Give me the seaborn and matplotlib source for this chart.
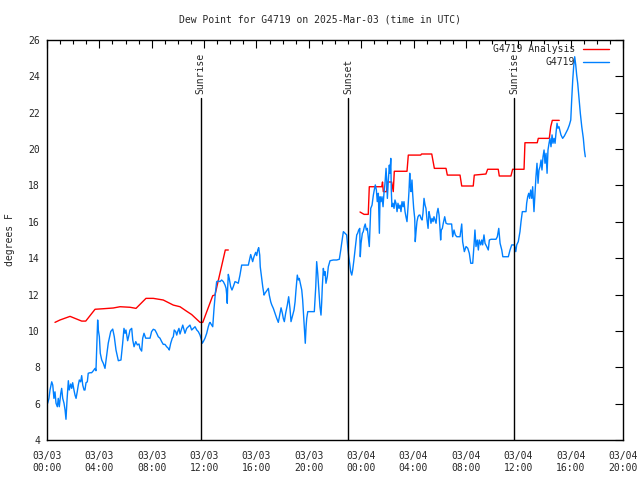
import numpy as np
import pandas as pd
import seaborn as sns
import matplotlib
matplotlib.use("Agg")
import matplotlib.pyplot as plt
import matplotlib.dates as mdates

# hours after 2025-03-03 00:00 UTC, dew point in deg F
analysis_hours_1 = [0.61, 0.99, 1.76, 2.65, 2.96, 3.67, 4.30, 5.06, 5.58, 6.34,
                    6.80, 7.56, 8.12, 8.88, 9.65, 10.16, 10.67, 11.05, 11.69, 11.90,
                    12.66, 12.83, 13.62, 13.85]
analysis_dewpt_1 = [10.47, 10.6, 10.8, 10.54, 10.54, 11.19, 11.22, 11.26, 11.33, 11.3,
                    11.24, 11.79, 11.79, 11.7, 11.42, 11.33, 11.08, 10.9, 10.47, 10.47,
                    11.94, 11.97, 14.45, 14.45]

analysis_hours_2 = [23.91, 24.22, 24.54, 24.62, 25.57, 25.63, 25.69, 25.93, 26.01, 26.33,
                    26.45, 26.53, 27.50, 27.60, 28.55, 28.61, 29.39, 29.59, 30.48, 30.58,
                    31.55, 31.68, 32.56, 32.64, 33.53, 33.66, 34.47, 34.55, 35.44, 35.57,
                    36.44, 36.51, 37.45, 37.53, 38.37, 38.48, 38.60, 39.13]
analysis_dewpt_2 = [16.54, 16.41, 16.41, 17.93, 17.93, 18.19, 17.66, 17.66, 18.19, 18.19,
                    17.66, 18.78, 18.78, 19.67, 19.67, 19.73, 19.73, 18.94, 18.94, 18.57,
                    18.57, 17.97, 17.97, 18.57, 18.63, 18.89, 18.89, 18.52, 18.52, 18.89,
                    18.89, 20.35, 20.35, 20.59, 20.59, 21.23, 21.58, 21.58]

obs_hours = [
    0.05, 0.15, 0.23, 0.36, 0.44, 0.53, 0.61, 0.69, 0.79, 0.86,
    0.94, 1.05, 1.12, 1.20, 1.30, 1.38, 1.45, 1.53, 1.63, 1.70,
    1.81, 1.89, 1.96, 2.06, 2.14, 2.22, 2.31, 2.39, 2.47, 2.57,
    2.65, 2.73, 2.83, 2.90, 2.98, 3.08, 3.15, 3.28, 3.41, 3.54,
    3.67, 3.74, 3.80, 3.87, 3.92, 4.00, 4.07, 4.18, 4.30, 4.43,
    4.68, 4.87, 5.02, 5.14, 5.27, 5.45, 5.65, 5.78, 5.88, 5.96,
    6.03, 6.16, 6.26,
    6.34, 6.47, 6.55, 6.65, 6.78, 6.90, 7.03, 7.10, 7.23, 7.31,
    7.41, 7.54, 7.66, 7.87, 7.99, 8.12, 8.25, 8.38, 8.50, 8.63,
    8.76, 8.88, 9.01, 9.14, 9.27, 9.34, 9.45, 9.57, 9.65, 9.72,
    9.83, 9.91, 9.98, 10.08, 10.16, 10.29, 10.37, 10.47, 10.54, 10.67,
    10.79, 10.92, 11.05, 11.18, 11.31, 11.44, 11.56, 11.69, 11.76, 11.86,
    11.94, 12.07, 12.20, 12.32, 12.40,
    12.45, 12.58, 12.66, 12.76, 12.86, 12.96, 13.09, 13.22, 13.34, 13.47,
    13.60, 13.68, 13.73, 13.77, 13.80, 13.85, 13.92, 14.03, 14.13, 14.23,
    14.36, 14.49, 14.61, 14.74, 14.87, 15.00, 15.18, 15.38, 15.45, 15.56,
    15.64, 15.71, 15.81, 15.94, 16.02, 16.10, 16.17, 16.25, 16.29, 16.40,
    16.48, 16.58, 16.65, 16.78, 16.91, 16.98, 17.09, 17.17, 17.29, 17.42,
    17.55, 17.67, 17.75, 17.88, 17.98, 18.05, 18.13, 18.23, 18.36, 18.46,
    18.56, 18.64, 18.77, 18.87, 18.95, 19.02, 19.12, 19.20, 19.27, 19.38,
    19.46, 19.53, 19.61, 19.69, 19.73, 19.79, 19.84, 19.92, 20.09, 20.27,
    20.42, 20.53, 20.60, 20.68, 20.78, 20.85, 20.93, 20.98, 21.03, 21.11,
    21.18, 21.24, 21.31, 21.41, 21.49, 21.62, 21.87, 22.13, 22.33, 22.44,
    22.51, 22.64, 22.77, 22.89, 22.97, 23.05, 23.12, 23.20, 23.28, 23.35,
    23.43, 23.50, 23.58, 23.66, 23.73, 23.81, 23.89, 23.93, 23.99, 24.09,
    24.16, 24.24, 24.31, 24.39, 24.47, 24.57, 24.62,
    24.67, 24.73, 24.83, 24.93, 25.00, 25.08, 25.16, 25.23, 25.31, 25.39,
    25.44, 25.51, 25.59, 25.67, 25.74, 25.82, 25.90, 25.95, 26.00, 26.07,
    26.15, 26.20, 26.26, 26.30, 26.35, 26.43, 26.51, 26.58, 26.66, 26.74,
    26.81, 26.89, 26.97, 27.04, 27.12, 27.20, 27.27, 27.35, 27.42, 27.50,
    27.58, 27.65, 27.71, 27.75, 27.81, 27.88, 27.93, 28.01, 28.09, 28.13,
    28.19, 28.26, 28.34, 28.42, 28.49, 28.57, 28.65, 28.72, 28.80, 28.88,
    28.95, 29.03, 29.11, 29.18, 29.26, 29.33, 29.41, 29.49, 29.56, 29.64,
    29.72, 29.79, 29.87, 29.95, 30.02, 30.07, 30.12, 30.20, 30.27, 30.38,
    30.48, 30.61, 30.78, 30.91, 30.99, 31.09, 31.19, 31.30, 31.49,
    31.55, 31.68, 31.75, 31.88, 32.01, 32.14, 32.26, 32.37, 32.52, 32.62,
    32.69, 32.77, 32.87, 32.95, 33.02, 33.13, 33.21, 33.28, 33.38, 33.46,
    33.59, 33.71, 33.79, 33.92, 34.10, 34.30, 34.40, 34.51, 34.61, 34.74,
    34.82, 34.99, 35.24, 35.37, 35.50, 35.70, 35.81, 35.88, 36.00, 36.13,
    36.21, 36.31, 36.44, 36.59, 36.64, 36.72, 36.80, 36.87, 36.95, 37.03,
    37.10, 37.20, 37.28, 37.35, 37.43, 37.51, 37.58, 37.66, 37.74, 37.81,
    37.89, 37.97, 38.04, 38.12, 38.20, 38.27, 38.35, 38.42, 38.50, 38.58,
    38.65, 38.73, 38.81, 38.88, 38.96, 39.03, 39.11, 39.26, 39.39, 39.52,
    39.65, 39.78, 39.90, 40.01, 40.08, 40.16, 40.23, 40.31, 40.39, 40.46,
    40.54, 40.64, 40.74, 40.85, 40.97, 41.05, 41.12,
]
obs_dewpt = [
    6.02, 6.29, 6.75, 7.2, 7.02, 6.29, 6.65, 6.02, 5.83, 6.29,
    5.83, 6.56, 6.84, 6.29, 6.02, 5.65, 5.14, 6.2, 7.26, 6.75,
    7.08, 6.84, 7.15, 6.75, 6.47, 6.29, 6.65, 7.02, 7.3, 7.2,
    7.54, 7.02, 6.75, 6.75, 7.15, 7.2, 7.67, 7.7, 7.7, 7.81,
    7.94, 7.81, 9.04, 10.6, 10.05, 9.68, 8.77, 8.4, 8.22, 7.94,
    9.33, 9.97, 10.1, 9.68, 8.95, 8.36, 8.4, 9.32, 10.14, 9.87,
    10.05, 9.46, 9.77,
    10.05, 10.14, 9.5, 9.13, 9.41, 9.23, 9.28, 9.04, 8.89, 9.6,
    9.87, 9.6, 9.6, 9.6, 9.96, 10.09, 10.05, 9.87, 9.68, 9.6,
    9.41, 9.26, 9.26, 9.13, 9.04, 8.95, 9.32, 9.6, 9.68, 10.05,
    9.96, 9.77, 9.96, 10.14, 9.83, 10.14, 10.32, 10.05, 9.87, 10.14,
    10.23, 10.32, 10.05, 10.14, 10.23, 10.05, 9.96, 9.77, 9.6, 9.32,
    9.41, 9.6, 9.87, 10.23, 10.41,
    10.47, 10.32, 10.23, 11.24, 12.07, 12.71, 12.75, 12.71, 12.8, 12.71,
    12.52, 12.34, 11.97, 11.52, 12.34, 13.11, 12.89, 12.43, 12.25, 12.43,
    12.71, 12.67, 12.62, 13.07, 13.62, 13.62, 13.62, 13.62, 13.84, 14.2,
    13.99, 13.81, 14.08, 14.32, 14.14, 14.45, 14.58, 14.17, 13.53, 12.89,
    12.43, 11.97, 12.07, 12.2, 12.34, 11.97, 11.6, 11.43, 11.24, 10.97,
    10.69, 10.47, 10.78, 11.27, 10.97, 10.69, 10.51, 10.97, 11.43, 11.88,
    11.24, 10.51, 10.87, 11.15, 11.6, 12.25, 13.07, 12.8, 12.89, 12.52,
    12.25, 11.7, 10.78, 9.77, 9.32, 10.23, 10.69, 11.06, 11.06, 11.06,
    11.06, 12.43, 13.81, 13.17, 12.07, 11.33, 10.87, 11.52, 12.43, 13.44,
    13.07, 13.26, 12.62, 12.98, 13.53, 13.86, 13.9, 13.9, 13.94, 14.45,
    14.82, 15.46, 15.37, 15.28, 14.64, 14.08, 13.72, 13.26, 13.07, 13.35,
    13.81, 14.27, 14.82, 15.28, 15.37, 15.55, 15.64, 14.08, 14.82, 15.37,
    15.46, 15.73, 15.88, 15.55, 15.64, 15.0, 14.64,
    15.55, 16.74, 16.92, 17.47, 17.75, 18.03, 17.75, 17.11, 17.57, 15.37,
    17.38, 17.11, 17.38, 16.83, 17.57, 18.12, 18.94, 18.3, 17.29, 18.21,
    19.12, 18.67, 19.49, 17.75, 16.83, 17.02, 16.74, 17.2, 17.02, 16.56,
    17.02, 16.74, 16.92, 16.56, 17.11, 16.83, 17.11, 16.56, 16.28, 16.01,
    16.83, 17.66, 18.67, 18.03, 17.66, 18.3, 17.57, 16.74, 16.19, 14.91,
    15.46, 16.01, 16.28, 16.37, 16.37, 16.19, 16.1, 16.47, 17.29, 16.92,
    16.74, 16.1, 15.64, 16.56, 16.28, 15.92, 16.19, 16.01, 16.28, 16.1,
    15.92, 16.47, 16.74, 16.37, 15.64, 15.0, 15.55, 15.64, 15.92, 16.28,
    15.92, 15.88, 15.88, 15.88, 15.18, 15.55, 15.28, 15.18, 15.18,
    15.18, 15.88, 14.91, 14.36, 14.64, 14.55, 14.27, 13.72, 13.72, 14.73,
    15.55, 14.64, 15.0, 14.45, 15.0, 14.73, 15.0, 14.73, 15.28, 14.82,
    14.64, 14.45, 15.0, 15.04, 15.04, 15.04, 15.18, 15.64, 14.82, 14.45,
    14.08, 14.08, 14.08, 14.45, 14.73, 14.73, 14.36, 14.73, 14.91, 15.46,
    16.01, 16.56, 16.56, 16.56, 17.02, 17.38, 17.57, 17.29, 17.75, 17.29,
    17.93, 16.56, 17.57, 18.48, 19.22, 18.12, 18.85, 19.03, 19.4, 18.85,
    19.58, 19.95, 19.22, 19.77, 18.67, 19.95, 20.32, 20.59, 20.13, 20.78,
    20.32, 20.59, 20.32, 20.87, 21.42, 21.15, 21.23, 20.78, 20.59, 20.72,
    20.9, 21.09, 21.32, 21.6, 22.7, 23.8, 24.53, 25.08, 24.63, 24.08,
    23.62, 22.79, 21.97, 21.23, 20.59, 19.95, 19.58,
]

sun_hours = [11.75, 23.0, 35.7]
sun_labels = ["Sunrise", "Sunset", "Sunrise"]

start = pd.Timestamp("2025-03-03 00:00")


def to_time(hours):
    return start + pd.to_timedelta(np.array(hours), unit="h")


red1 = pd.DataFrame({"time": to_time(analysis_hours_1), "dewpt": analysis_dewpt_1})
red2 = pd.DataFrame({"time": to_time(analysis_hours_2), "dewpt": analysis_dewpt_2})
blue = pd.DataFrame({"time": to_time(obs_hours), "dewpt": obs_dewpt})

sns.set_style("white")
mono = "DejaVu Sans Mono"
plt.rcParams["font.family"] = mono
fs = 7

fig = plt.figure(figsize=(6.4, 4.8), dpi=100)
ax = fig.add_axes([47 / 640, 40 / 480, 576 / 640, 400 / 480])

sns.lineplot(data=red1, x="time", y="dewpt", color="#ff0000", linewidth=1,
             estimator=None, sort=False, ax=ax, label="G4719 Analysis")
sns.lineplot(data=red2, x="time", y="dewpt", color="#ff0000", linewidth=1,
             estimator=None, sort=False, ax=ax)
sns.lineplot(data=blue, x="time", y="dewpt", color="#0080ff", linewidth=1,
             estimator=None, sort=False, ax=ax, label="G4719")

for h, lab in zip(sun_hours, sun_labels):
    t = start + pd.Timedelta(hours=h)
    ax.plot([t, t], [4, 22.8], color="black", linewidth=1, zorder=5)
    ax.text(t, 23.05, lab, rotation=90, ha="center", va="bottom", fontsize=fs)

ax.set_xlim(start, start + pd.Timedelta(hours=44))
ax.set_ylim(4, 26)
ax.set_yticks(range(4, 27, 2))
ax.xaxis.set_major_locator(mdates.HourLocator(byhour=range(0, 24, 4)))
ax.xaxis.set_minor_locator(mdates.HourLocator())
ax.xaxis.set_major_formatter(mdates.DateFormatter("%m/%d\n%H:%M"))
ax.tick_params(which="major", direction="in", length=6, width=0.8,
               top=True, right=True, labelsize=fs, color="black")
ax.tick_params(which="minor", direction="in", length=3, width=0.8,
               top=True, right=False, left=False, color="black")
ax.tick_params(axis="x", which="major", pad=8)
ax.tick_params(axis="y", which="major", pad=5)
ax.set_xlabel("")
ax.set_ylabel("")
for sp in ax.spines.values():
    sp.set_color("black")
    sp.set_linewidth(1)

handles, labels = ax.get_legend_handles_labels()
ax.legend(handles, labels, loc="upper right", frameon=False, markerfirst=False,
          fontsize=fs, handlelength=2.7, handletextpad=0.8, borderpad=0,
          borderaxespad=0, labelspacing=0.3,
          bbox_to_anchor=(1 - 14 / 576, 1 - 4 / 400))

fig.text(0.5, 1 - 19 / 480, "Dew Point for G4719 on 2025-Mar-03 (time in UTC)",
         ha="center", va="center", fontsize=fs)
fig.text(10 / 640, 0.5, "degrees F", rotation=90, ha="center", va="center", fontsize=fs)

fig.savefig("out.png", dpi=100)
